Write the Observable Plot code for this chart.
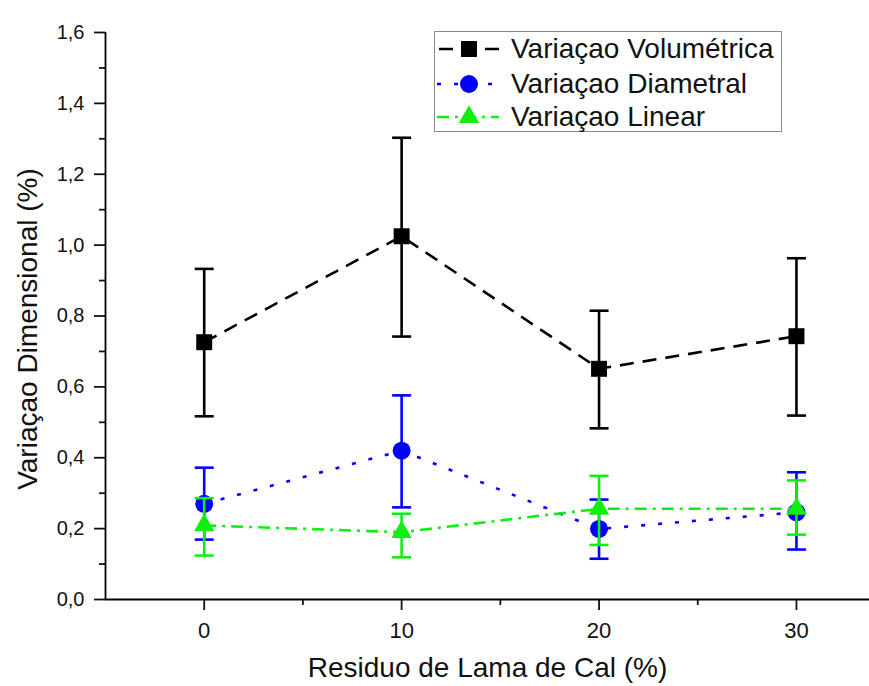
<!DOCTYPE html>
<html><head><meta charset="utf-8">
<script src="https://cdn.jsdelivr.net/npm/d3@7"></script>
<script src="https://cdn.jsdelivr.net/npm/@observablehq/plot@0.6"></script>
<style>
body{margin:0;background:#fff;font-family:"Liberation Sans",Arial,sans-serif;}
#wrap{position:relative;width:869px;height:686px;overflow:hidden;}
#legend{position:absolute;left:434px;top:31px;width:348px;height:101px;border:1px solid #8a8a8a;background:#fff;box-sizing:border-box;}
.row{position:absolute;left:0;height:34px;display:flex;align-items:center;}
.row svg{display:block;}
.row span{font-size:28px;color:#111;margin-left:10px;white-space:nowrap;}
</style></head><body><div id="wrap"></div>
<script>
// ---- data ----
const residuo = [0, 10, 20, 30];
const volMean = [0.726, 1.025, 0.651, 0.743];
const volLow  = [0.517, 0.742, 0.483, 0.519];
const volHigh = [0.933, 1.303, 0.815, 0.963];
const diaMean = [0.270, 0.420, 0.199, 0.246];
const diaLow  = [0.169, 0.260, 0.115, 0.141];
const diaHigh = [0.372, 0.576, 0.282, 0.359];
const linMean = [0.209, 0.190, 0.256, 0.256];
const linLow  = [0.124, 0.119, 0.154, 0.183];
const linHigh = [0.286, 0.242, 0.349, 0.336];
const seriesNames = ["Variaçao Volumétrica", "Variaçao Diametral", "Variaçao Linear"];
const xTicks = [0, 10, 20, 30];
const xMinorTicks = [5, 15, 25];
const yTicks = [0, 0.2, 0.4, 0.6, 0.8, 1.0, 1.2, 1.4, 1.6];
const yMinorTicks = [0.1, 0.3, 0.5, 0.7, 0.9, 1.1, 1.3, 1.5];
const xTitle = "Residuo de Lama de Cal (%)";
const yTitle = "Variaçao Dimensional (%)";

// ---- styles ----
const styles = [
  {color: "#000000", dash: "14,9", symbol: "square", r: 9},
  {color: "#0000ff", dash: "4,13", symbol: "circle", r: 9},
  {color: "#11ee11", dash: "12,6,3,6", symbol: "triangle", r: 7.6}
];
const capSymbol = {draw(ctx, size) { const w = Math.sqrt(size / Math.PI); ctx.moveTo(-w, 0); ctx.lineTo(w, 0); }};

const series = [
  [volMean, volLow, volHigh],
  [diaMean, diaLow, diaHigh],
  [linMean, linLow, linHigh]
].map(([m, lo, hi], i) => residuo.map((x, j) => ({x, y: m[j], lo: lo[j], hi: hi[j], s: seriesNames[i]})));

const marks = [];
series.forEach((data, i) => {
  const st = styles[i];
  marks.push(Plot.line(data, {x: "x", y: "y", stroke: st.color, strokeWidth: 2.6, strokeDasharray: st.dash, strokeLinecap: "butt"}));
  marks.push(Plot.ruleX(data, {x: "x", y1: "lo", y2: "hi", stroke: st.color, strokeWidth: 2.6}));
  marks.push(Plot.dot(data, {x: "x", y: "lo", symbol: capSymbol, r: 9.5, stroke: st.color, strokeWidth: 2.6, fill: "none"}));
  marks.push(Plot.dot(data, {x: "x", y: "hi", symbol: capSymbol, r: 9.5, stroke: st.color, strokeWidth: 2.6, fill: "none"}));
  marks.push(Plot.dot(data, {x: "x", y: "y", symbol: st.symbol, r: st.r, fill: st.color, stroke: "none"}));
});

const fmt = d => d.toFixed(1).replace(".", ",");

const chart = Plot.plot({
  width: 869, height: 686,
  marginLeft: 105, marginRight: 0, marginTop: 32, marginBottom: 87,
  style: {fontFamily: "'Liberation Sans', Arial, sans-serif", color: "#111", background: "#fff", overflow: "visible"},
  x: {domain: [-5, 33.7]},
  y: {domain: [0, 1.6]},
  marks: [
    Plot.axisY({ticks: yTicks, tickSize: 11, tickFormat: () => "", label: null, strokeWidth: 1.8}),
    Plot.axisY({ticks: yMinorTicks, tickSize: 6, tickFormat: () => "", label: null, strokeWidth: 1.8}),
    Plot.axisX({ticks: xTicks, tickSize: 11, tickFormat: () => "", label: null, strokeWidth: 1.8}),
    Plot.axisX({ticks: xMinorTicks, tickSize: 6, tickFormat: () => "", label: null, strokeWidth: 1.8}),
    Plot.text(yTicks, {y: d => d, text: fmt, frameAnchor: "left", textAnchor: "end", lineAnchor: "middle", dx: -21, fontSize: 20, fill: "#111"}),
    Plot.text(xTicks, {x: d => d, text: d => String(d), frameAnchor: "bottom", textAnchor: "middle", lineAnchor: "top", dy: 23, fontSize: 22, fill: "#111"}),
    Plot.ruleX([-5], {stroke: "#000", strokeWidth: 1.8}),
    Plot.ruleY([0], {stroke: "#000", strokeWidth: 1.8}),
    Plot.text([yTitle], {text: d => d, frameAnchor: "left", textAnchor: "middle", lineAnchor: "middle", dx: -77, dy: 13, rotate: -90, fontSize: 28, fill: "#111"}),
    Plot.text([xTitle], {text: d => d, frameAnchor: "bottom", textAnchor: "middle", lineAnchor: "middle", dy: 69, fontSize: 28, fill: "#111"}),
    ...marks
  ]
});

const wrap = document.getElementById("wrap");
wrap.appendChild(chart);

// ---- legend ----
const legend = document.createElement("div");
legend.id = "legend";
const rowTops = [0, 35, 68];
seriesNames.forEach((name, i) => {
  const st = styles[i];
  const row = document.createElement("div");
  row.className = "row";
  row.style.top = rowTops[i] + "px";
  const svg = d3.create("svg").attr("width", 66).attr("height", 34);
  svg.append("line").attr("x1", 2).attr("x2", 64).attr("y1", 17).attr("y2", 17)
    .attr("stroke", st.color).attr("stroke-width", 2.6).attr("stroke-dasharray", st.dash)
    .attr("stroke-dashoffset", i === 0 ? -2 : 0);
  const symType = {square: d3.symbolSquare, circle: d3.symbolCircle, triangle: d3.symbolTriangle}[st.symbol];
  svg.append("path").attr("transform", "translate(34,17)")
    .attr("d", d3.symbol(symType, Math.PI * st.r * st.r)()).attr("fill", st.color);
  row.appendChild(svg.node());
  const span = document.createElement("span");
  span.textContent = name;
  row.appendChild(span);
  legend.appendChild(row);
});
wrap.appendChild(legend);
</script>
</body></html>
